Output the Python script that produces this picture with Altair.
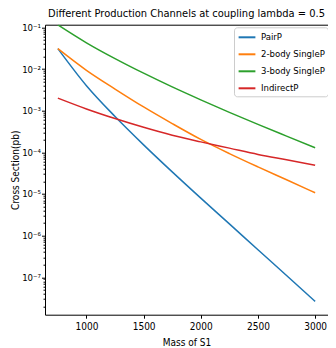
import altair as alt
import pandas as pd

mass = [750, 1000, 1250, 1500, 1750, 2000, 2250, 2500, 2750, 3000]
pairp = [3.09e-2, 3.98e-3, 7.24e-4, 1.51e-4, 3.39e-5, 7.94e-6, 1.91e-6, 4.57e-7, 1.10e-7, 2.63e-8]
two_body = [3.09e-2, 9.33e-3, 3.31e-3, 1.23e-3, 4.90e-4, 2.04e-4, 9.33e-5, 4.47e-5, 2.19e-5, 1.07e-5]
three_body = [0.115, 0.0427, 0.0178, 7.94e-3, 3.72e-3, 1.82e-3, 9.12e-4, 4.68e-4, 2.45e-4, 1.29e-4]
indirect = [2.0e-3, 1.10e-3, 6.46e-4, 3.98e-4, 2.57e-4, 1.78e-4, 1.26e-4, 8.91e-5, 6.61e-5, 4.90e-5]

names = ["PairP", "2-body SingleP", "3-body SingleP", "IndirectP"]
colors = ["#1f77b4", "#ff7f0e", "#2ca02c", "#d62728"]
series = [pairp, two_body, three_body, indirect]

x_ticks = [1000, 1500, 2000, 2500, 3000]
y_ticks = []
for e in range(-8, 0):
    for k in range(1, 10):
        v = float(f"{k}e{e}")
        if 1.26e-8 <= v <= 0.116:
            y_ticks.append(v)

rows = []
for n, s in zip(names, series):
    for m, v in zip(mass, s):
        rows.append({"Mass": m, "Value": v, "Channel": n})
df = pd.DataFrame(rows)

FONT = "Liberation Sans Narrow, DejaVu Sans Condensed, DejaVu Sans"
is_decade = "abs(log(datum.value)/LN10 - round(log(datum.value)/LN10)) < 0.000001"
sup = "['⁰','¹','²','³','⁴','⁵','⁶','⁷','⁸','⁹']"
label_expr = f"{is_decade} ? '10⁻' + {sup}[-round(log(datum.value)/LN10)] : ''"

chart = alt.Chart(df).mark_line(strokeWidth=1.5, clip=True, interpolate="monotone").encode(
    x=alt.X(
        "Mass:Q",
        title="Mass of S1",
        scale=alt.Scale(domain=[637.5, 3112.5], nice=False, zero=False),
        axis=alt.Axis(values=x_ticks, format="d", grid=False, domain=False,
                      tickSize=3.5, tickColor="black", labelPadding=3,
                      labelFont=FONT, labelFontSize=10, labelColor="black",
                      titleFont=FONT, titleFontSize=10, titleFontWeight="normal",
                      titleColor="black", titlePadding=6, labelFlush=False),
    ),
    y=alt.Y(
        "Value:Q",
        title="Cross Section(pb)",
        scale=alt.Scale(type="log", domain=[1.26e-8, 0.116], nice=False),
        axis=alt.Axis(values=y_ticks, labelExpr=label_expr, grid=False, domain=False,
                      tickSize={"condition": {"test": is_decade, "value": 3.5}, "value": 2},
                      tickColor="black", labelPadding=1, labelOverlap=False,
                      labelFont=FONT, labelFontSize=9.5, labelColor="black",
                      titleFont=FONT, titleFontSize=10, titleFontWeight="normal",
                      titleColor="black", titlePadding=1),
    ),
    color=alt.Color(
        "Channel:N",
        sort=names,
        scale=alt.Scale(domain=names, range=colors),
        legend=alt.Legend(title=None, orient="none", legendX=189, legendY=2.6,
                          symbolType="M-1.4,0L1.4,0", symbolSize=144, symbolStrokeWidth=2,
                          labelFont=FONT, labelFontSize=9.5, labelColor="black",
                          padding=3, rowPadding=5, symbolOffset=3, labelOffset=7,
                          fillColor="rgba(255,255,255,0.8)", strokeColor="#cccccc",
                          cornerRadius=3),
    ),
).properties(
    width=283,
    height=290,
    autosize=alt.AutoSizeParams(type="none"),
    padding={"left": 37, "top": 16.7, "right": 0, "bottom": 33.3},
    title=alt.TitleParams("Different Production Channels at coupling lambda = 0.5",
                          font=FONT, fontSize=11, fontWeight="normal", color="black",
                          offset=3, anchor="middle"),
).configure_view(stroke="black", strokeWidth=1)

chart.save("out.html", embed_options={"renderer": "svg", "actions": False})
